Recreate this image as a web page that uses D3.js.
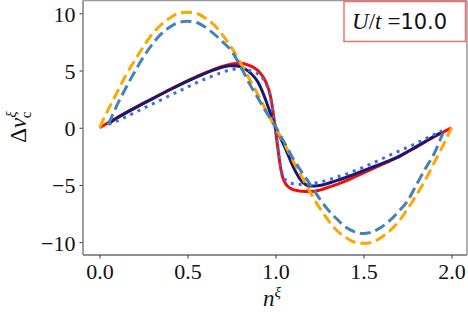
<!DOCTYPE html>
<html>
<head>
<meta charset="utf-8">
<script src="https://cdn.jsdelivr.net/npm/d3@7"></script>
<style>
  body { margin: 0; background: #fff; }
  svg { display: block; }
  .serif { font-family: "Liberation Serif", serif; }
  .tick text { font-family: "Liberation Serif", serif; font-size: 22px; fill: #111; }
</style>
</head>
<body>
<div id="chart"></div>
<script>
// ---- data ----
const nOrange = [0, 0.05, 0.1, 0.15, 0.2, 0.25, 0.3, 0.35, 0.4, 0.45, 0.5, 0.55, 0.6, 0.65, 0.7, 0.75, 0.8, 0.85, 0.9, 0.95, 1.0,
  1.05, 1.1, 1.15, 1.2, 1.25, 1.3, 1.35, 1.4, 1.45, 1.5, 1.55, 1.6, 1.65, 1.7, 1.75, 1.8, 1.85, 1.9, 1.95, 2.0];
const vOrange = [0, 1.6, 3.1, 4.6, 5.9, 7.1, 8.2, 9.0, 9.6, 10.0, 10.1, 10.0, 9.6, 9.0, 8.1, 7.0, 5.7, 4.3, 2.9, 1.4, 0,
  -1.4, -2.9, -4.3, -5.7, -7.0, -8.1, -9.0, -9.6, -10.0, -10.1, -10.0, -9.6, -9.0, -8.2, -7.1, -5.9, -4.6, -3.1, -1.6, 0];

const nSteel = [0.05, 0.1, 0.15, 0.2, 0.25, 0.3, 0.35, 0.4, 0.45, 0.5, 0.55, 0.6, 0.65, 0.7, 0.75, 0.8, 0.85, 0.9, 0.95, 1.0,
  1.05, 1.1, 1.15, 1.2, 1.25, 1.3, 1.35, 1.4, 1.45, 1.5, 1.55, 1.6, 1.65, 1.7, 1.75, 1.8, 1.85, 1.9, 1.95];
const vSteel = [0.3, 2.0, 3.5, 4.9, 6.2, 7.3, 8.2, 8.8, 9.2, 9.3, 9.2, 8.8, 8.2, 7.5, 6.7, 5.4, 3.9, 2.6, 1.3, 0.1,
  -1.3, -2.7, -3.9, -5.0, -6.2, -7.2, -8.0, -8.7, -9.1, -9.25, -9.1, -8.7, -8.1, -7.3, -6.4, -5.0, -3.6, -2.3, -0.5];

const nRed = [0, 0.05, 0.1, 0.15, 0.2, 0.25, 0.3, 0.35, 0.4, 0.45, 0.5, 0.55, 0.6, 0.65, 0.7, 0.75, 0.8, 0.85, 0.88, 0.9,
  0.92, 0.94, 0.96, 0.97, 0.98, 0.99, 1.0, 1.01, 1.02, 1.03, 1.04, 1.06, 1.08, 1.1, 1.12, 1.15, 1.2, 1.25, 1.3, 1.35,
  1.4, 1.45, 1.5, 1.55, 1.6, 1.65, 1.7, 1.75, 1.8, 1.85, 1.9, 1.95, 2.0];
const vRed = [0, 0.45, 0.9, 1.32, 1.74, 2.15, 2.55, 2.95, 3.35, 3.72, 4.1, 4.45, 4.8, 5.1, 5.37, 5.58, 5.64, 5.45, 5.22, 5.0,
  4.65, 4.15, 3.4, 2.85, 2.0, 0.95, -0.2, -1.4, -2.6, -3.6, -4.3, -4.95, -5.25, -5.4, -5.48, -5.55, -5.58, -5.45, -5.2, -4.95,
  -4.65, -4.3, -3.95, -3.6, -3.25, -2.9, -2.5, -2.1, -1.7, -1.25, -0.8, -0.4, 0];

const nNavy = [0.05, 0.1, 0.15, 0.2, 0.25, 0.3, 0.35, 0.4, 0.45, 0.5, 0.55, 0.6, 0.65, 0.7, 0.74, 0.78, 0.82, 0.86, 0.9, 0.94,
  0.97, 1.0, 1.03, 1.06, 1.1, 1.14, 1.17, 1.2, 1.25, 1.3, 1.35, 1.4, 1.45, 1.5, 1.55, 1.6, 1.65, 1.7, 1.75, 1.8,
  1.85, 1.9, 1.945];
const vNavy = [0.35, 0.85, 1.3, 1.72, 2.13, 2.53, 2.93, 3.32, 3.7, 4.07, 4.42, 4.75, 5.05, 5.3, 5.42, 5.4, 5.2, 4.75, 4.0, 2.6,
  1.3, 0, -0.95, -1.95, -3.4, -4.5, -4.95, -5.1, -5.05, -4.85, -4.6, -4.35, -4.05, -3.75, -3.45, -3.15, -2.85, -2.55, -2.1, -1.65,
  -1.2, -0.75, -0.4];

const nDot = [0.05, 0.1, 0.15, 0.2, 0.25, 0.3, 0.35, 0.4, 0.45, 0.5, 0.55, 0.6, 0.65, 0.7, 0.75, 0.8, 0.85, 0.9, 0.92, 0.94,
  0.96, 0.97, 0.98, 0.99, 1.0, 1.01, 1.02, 1.03, 1.04, 1.06, 1.08, 1.1, 1.15, 1.2, 1.25, 1.3, 1.35, 1.4, 1.45, 1.5,
  1.55, 1.6, 1.65, 1.7, 1.75, 1.8, 1.85, 1.9, 1.945];
const vDot = [0.3, 0.6, 0.95, 1.32, 1.7, 2.07, 2.44, 2.82, 3.19, 3.56, 3.92, 4.26, 4.57, 4.86, 5.08, 5.15, 5.0, 4.7, 4.45, 4.0,
  3.3, 2.75, 1.95, 0.95, -0.2, -1.35, -2.5, -3.45, -4.1, -4.6, -4.8, -4.9, -4.95, -4.9, -4.75, -4.55, -4.3, -4.05, -3.75, -3.45,
  -3.1, -2.75, -2.4, -2.05, -1.7, -1.35, -0.97, -0.6, -0.25];

const xTicks = [0, 0.5, 1.0, 1.5, 2.0];
const yTicks = [-10, -5, 0, 5, 10];

// ---- layout ----
const W = 468, H = 313;
const plotLeft = 83, plotRight = 467, plotTop = 0.5, plotBottom = 255;

const svg = d3.select("#chart").append("svg")
  .attr("width", W).attr("height", H);

const x = d3.scaleLinear().domain([-0.094, 2.088]).range([plotLeft, plotRight]);
const y = d3.scaleLinear().domain([-11.12, 11.12]).range([plotBottom, plotTop]);

// curves
const series = [
  { n: nRed, v: vRed, color: "#f00d0d", width: 3, dash: null },
  { n: nNavy, v: vNavy, color: "#191970", width: 3, dash: null },
  { n: nDot, v: vDot, color: "#4169e1", width: 3, dash: "3,5" },
  { n: nOrange, v: vOrange, color: "#ffa500", width: 3, dash: "11,5" },
  { n: nSteel, v: vSteel, color: "#4682b4", width: 3, dash: "11,5" }
];

const line = d3.line()
  .x(d => x(d[0]))
  .y(d => y(d[1]))
  .curve(d3.curveMonotoneX);

svg.append("g").selectAll("path")
  .data(series)
  .join("path")
  .attr("d", s => line(s.n.map((n, i) => [n, s.v[i]])))
  .attr("fill", "none")
  .attr("stroke", s => s.color)
  .attr("stroke-width", s => s.width)
  .attr("stroke-dasharray", s => s.dash)
  .attr("stroke-linecap", "butt");

// axes
const xAxis = svg.append("g")
  .attr("transform", "translate(0," + plotBottom + ")")
  .call(d3.axisBottom(x).tickValues(xTicks).tickFormat(d3.format(".1f")).tickSizeOuter(0).tickSize(3.5).tickPadding(5));
xAxis.attr("font-family", null);
xAxis.select(".domain").remove();
xAxis.selectAll("line").attr("stroke", "#222").attr("stroke-width", 0.9);

const yAxis = svg.append("g")
  .attr("transform", "translate(" + plotLeft + ",0)")
  .call(d3.axisLeft(y).tickValues(yTicks).tickFormat(d => d < 0 ? "\u2212" + Math.abs(d) : d).tickSizeOuter(0).tickSize(3.5).tickPadding(4));
yAxis.attr("font-family", null);
yAxis.select(".domain").remove();
yAxis.selectAll("line").attr("stroke", "#222").attr("stroke-width", 0.9);
yAxis.selectAll("text").attr("dy", "0.36em");

// spines
svg.append("line").attr("x1", plotLeft).attr("x2", plotRight).attr("y1", plotBottom).attr("y2", plotBottom)
  .attr("stroke", "#222").attr("stroke-width", 1.2);
svg.append("line").attr("x1", plotLeft).attr("x2", plotLeft).attr("y1", plotTop).attr("y2", plotBottom)
  .attr("stroke", "#7f7f7f").attr("stroke-width", 1.5);
svg.append("line").attr("x1", plotLeft).attr("x2", plotRight).attr("y1", plotTop).attr("y2", plotTop)
  .attr("stroke", "#999").attr("stroke-width", 1.5);
svg.append("line").attr("x1", plotRight).attr("x2", plotRight).attr("y1", plotTop).attr("y2", plotBottom)
  .attr("stroke", "#999").attr("stroke-width", 1.5);

// axis labels
const xl = svg.append("text")
  .attr("class", "serif")
  .attr("x", 272).attr("y", 306)
  .attr("text-anchor", "middle")
  .style("font-size", "23px")
  .style("fill", "#111");
xl.append("tspan").style("font-style", "italic").text("n");
xl.append("tspan").attr("dy", -9).style("font-size", "15px").style("font-style", "italic").text("ξ");

const yl = svg.append("text")
  .attr("class", "serif")
  .attr("transform", "translate(26,127) rotate(-90)")
  .attr("text-anchor", "middle")
  .style("font-size", "23px")
  .style("fill", "#111");
yl.append("tspan").text("Δ");
yl.append("tspan").style("font-style", "italic").text("v");
yl.append("tspan").attr("dy", -10).style("font-size", "15px").style("font-style", "italic").text("ξ");
yl.append("tspan").attr("dx", -7).attr("dy", 15).style("font-size", "15px").text("c");

// annotation box
svg.append("rect")
  .attr("x", 344).attr("y", 1.5).attr("width", 121.5).attr("height", 40)
  .attr("fill", "#fff").attr("stroke", "#f07070").attr("stroke-width", 1.5);
const ann = svg.append("text")
  .attr("x", 352).attr("y", 29)
  .style("font-size", "23px")
  .style("fill", "#111");
ann.append("tspan").attr("class", "serif").style("font-style", "italic").text("U");
ann.append("tspan").attr("class", "serif").text("/");
ann.append("tspan").attr("class", "serif").style("font-style", "italic").text("t");
ann.append("tspan").attr("class", "serif").attr("dx", 6).text("=");
ann.append("tspan").style("font-family", "'DejaVu Sans', sans-serif").style("font-size", "21px").text("10.0");
</script>
</body>
</html>
